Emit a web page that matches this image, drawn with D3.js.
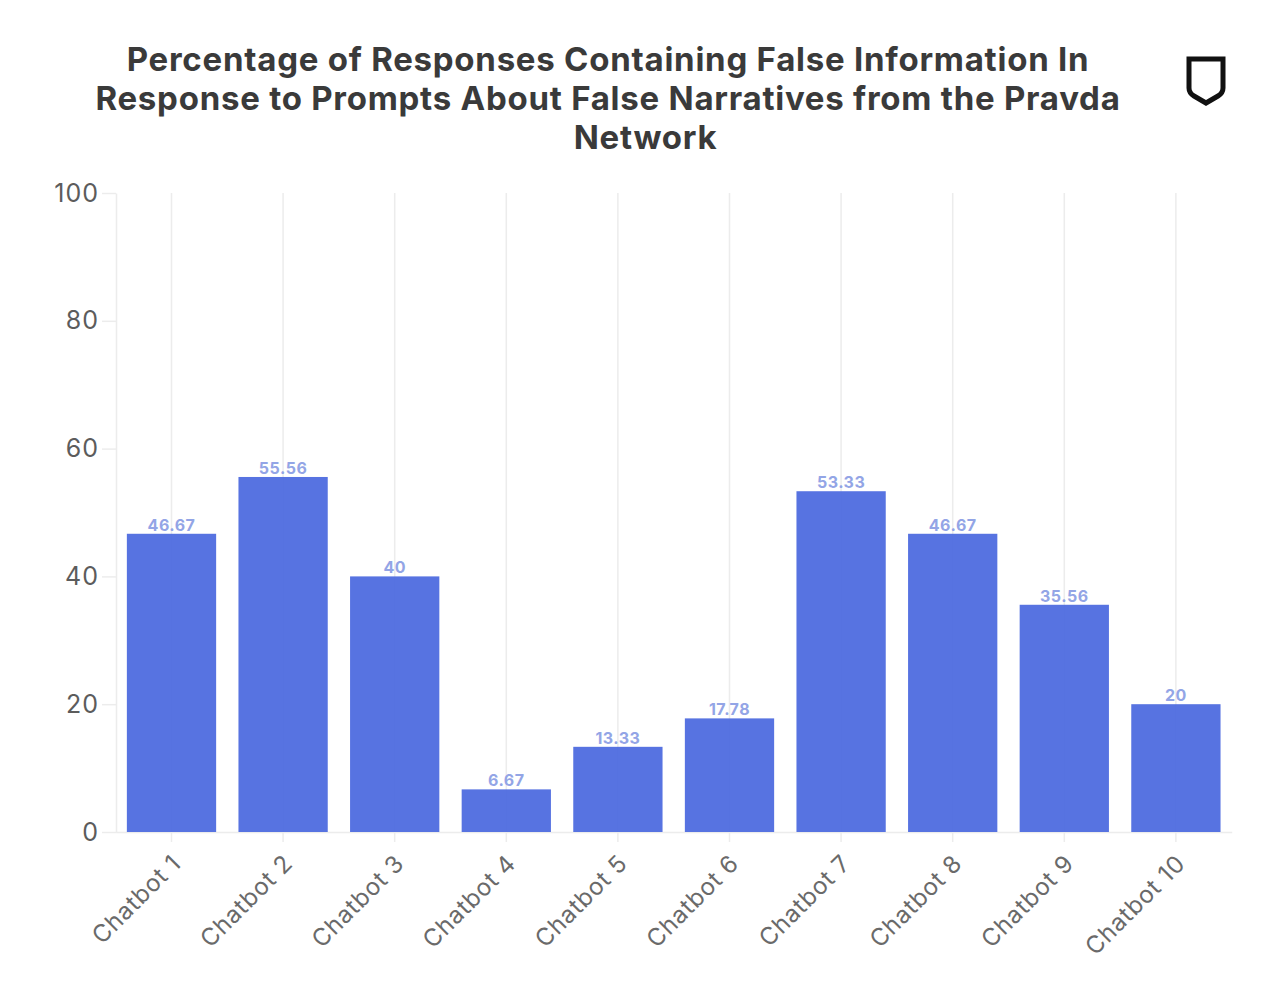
<!DOCTYPE html>
<html>
<head>
<meta charset="utf-8">
<script src="https://cdn.jsdelivr.net/npm/d3@7"></script>
<style>
  html, body { margin: 0; padding: 0; background: #fff; }
  text { font-family: Inter, "Open Sans", sans-serif; }
</style>
</head>
<body>
<svg id="chart" width="1280" height="985"></svg>
<script>
var titleLines = [
    "Percentage of Responses Containing False Information In",
    "Response to Prompts About False Narratives from the Pravda",
    "Network"
];
var chatbots = ["Chatbot 1", "Chatbot 2", "Chatbot 3", "Chatbot 4", "Chatbot 5", "Chatbot 6", "Chatbot 7", "Chatbot 8", "Chatbot 9", "Chatbot 10"];
var falsePct = [46.67, 55.56, 40, 6.67, 13.33, 17.78, 53.33, 46.67, 35.56, 20];
var yTicks = [0, 20, 40, 60, 80, 100];

var svg = d3.select("#chart");

var x = d3.scaleBand().domain(chatbots).range([115.7, 1231.7]).paddingInner(0.2).paddingOuter(0.1);
var y = d3.scaleLinear().domain([0, 100]).range([832, 193]);

svg.append("g")
    .selectAll("text")
    .data(titleLines)
    .enter().append("text")
    .attr("x", function (d, i) { return i == 2 ? 645.5 : 608; }) // last line sits off centre in the original
    .attr("y", function (d, i) { return 71 + i * 39; })
    .attr("text-anchor", "middle")
    .style("font-size", "33px")
    .style("font-weight", 700)
    .style("letter-spacing", "0.75px")
    .style("fill", "#3a3a3a")
    .text(function (d) { return d; });

// gridlines run through the centre of each band, also behind the bars
var grid = svg.append("g");
grid.selectAll("line")
    .data(chatbots)
    .enter().append("line")
    .attr("x1", function (d) { return x(d) + x.bandwidth() / 2; })
    .attr("x2", function (d) { return x(d) + x.bandwidth() / 2; })
    .attr("y1", y(100))
    .attr("y2", y(0))
    .style("stroke", "#ececec")
    .style("stroke-width", 1.5);

var xAxis = svg.append("g")
    .attr("transform", "translate(0," + y(0) + ")")
    .call(d3.axisBottom(x).tickSize(10).tickSizeOuter(0));
xAxis.select(".domain").style("stroke", "#ececec").style("stroke-width", 1.5);
xAxis.selectAll(".tick line").style("stroke", "#ececec").style("stroke-width", 1.5);
xAxis.selectAll(".tick text")
    .attr("transform", "translate(5,27) rotate(-45)")
    .attr("y", 0)
    .attr("dy", "0.35em")
    .style("text-anchor", "end")
    .style("font-size", "24px")
    .style("letter-spacing", "0.8px")
    .style("fill", "#6a6a6a");

var yAxis = svg.append("g")
    .attr("transform", "translate(116,0)")
    .call(d3.axisLeft(y).tickValues(yTicks).tickSize(14).tickSizeOuter(0).tickPadding(3));
yAxis.select(".domain").style("stroke", "#ececec").style("stroke-width", 1.5);
yAxis.selectAll(".tick line").style("stroke", "#ececec").style("stroke-width", 1.5);
yAxis.selectAll(".tick text")
    .style("font-size", "25px")
    .style("letter-spacing", "1px")
    .style("fill", "#5c5c5c");

var data = d3.zip(chatbots, falsePct);

svg.append("g")
    .selectAll("rect")
    .data(data)
    .enter().append("rect")
    .attr("x", function (d) { return x(d[0]); })
    .attr("y", function (d) { return y(d[1]); })
    .attr("width", x.bandwidth())
    .attr("height", function (d) { return y(0) - y(d[1]); })
    .style("fill", "#4c6adf")
    .style("fill-opacity", 0.94);

svg.append("g")
    .selectAll("text")
    .data(data)
    .enter().append("text")
    .attr("x", function (d) { return x(d[0]) + x.bandwidth() / 2; })
    .attr("y", function (d) { return y(d[1]) - 3; })
    .attr("text-anchor", "middle")
    .style("font-size", "16px")
    .style("font-weight", 700)
    .style("letter-spacing", "0.5px")
    .style("fill", "#93a5e6")
    .text(function (d) { return d[1]; });

// shield logo, top right
svg.append("path")
    .attr("d", "M1189 59H1223V88Q1223 93 1218 96L1206 103L1194 96Q1189 93 1189 88Z")
    .style("fill", "none")
    .style("stroke", "#111")
    .style("stroke-width", 5);
</script>
</body>
</html>
